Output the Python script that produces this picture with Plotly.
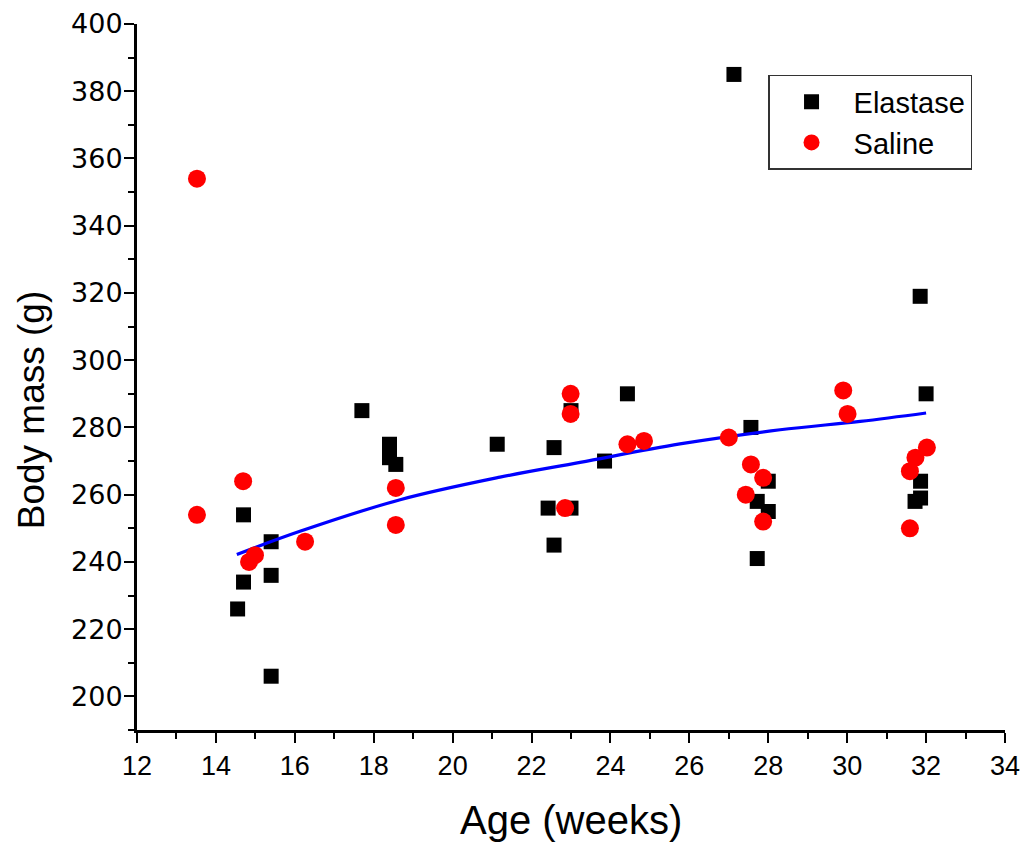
import plotly.graph_objects as go

# Elastase group: age (weeks) and body mass (g)
elastase_age = [14.55, 14.70, 14.70, 15.40, 15.40, 15.40, 17.70, 18.40, 18.40, 18.56,
                21.13, 22.42, 22.57, 22.57, 23.00, 23.00, 23.85, 24.43, 27.13, 27.56,
                27.72, 27.72, 28.00, 28.00, 31.72, 31.86, 31.86, 31.85, 32.00]
elastase_mass = [226, 254, 234, 246, 236, 206, 285, 275, 271, 269,
                 275, 256, 274, 245, 256, 285, 270, 290, 385, 280,
                 258, 241, 264, 255, 258, 264, 259, 319, 290]

# Saline group: age (weeks) and body mass (g)
saline_age = [13.52, 13.52, 14.69, 14.84, 14.99, 16.26, 18.56, 18.56, 22.85, 22.99,
              22.99, 24.43, 24.85, 27.00, 27.43, 27.56, 27.87, 27.87, 29.90, 30.01,
              31.59, 31.59, 31.73, 32.02]
saline_mass = [354, 254, 264, 240, 242, 246, 262, 251, 256, 290,
               284, 275, 276, 277, 260, 269, 265, 252, 291, 284,
               267, 250, 271, 274]

# Growth-curve fit through both groups
fit_age = [14.53, 16.13, 18.67, 21.20, 23.23, 25.76, 28.30, 30.33, 32.00]
fit_mass = [242.2, 249.1, 258.5, 265.2, 269.6, 275.1, 279.3, 281.8, 284.3]

x_ticks = list(range(12, 35, 2))
y_ticks = list(range(200, 401, 20))

fig = go.Figure()

fig.add_trace(go.Scatter(
    x=elastase_age, y=elastase_mass, mode="markers", name="Elastase",
    marker=dict(symbol="square", size=15, color="black", line=dict(width=0)),
))
fig.add_trace(go.Scatter(
    x=fit_age, y=fit_mass, mode="lines", showlegend=False,
    line=dict(color="#0000ff", width=3.2, shape="spline"),
))
fig.add_trace(go.Scatter(
    x=saline_age, y=saline_mass, mode="markers", name="Saline",
    marker=dict(symbol="circle", size=18, color="#ff0000", line=dict(width=0)),
))

axis_common = dict(
    showgrid=False, zeroline=False, showline=True, linecolor="black", linewidth=3,
    ticks="outside", ticklen=10, tickwidth=2, tickcolor="black", automargin=False,
)

fig.update_xaxes(
    range=[12, 34], tickvals=x_ticks, ticktext=[str(v) for v in x_ticks],
    tickfont=dict(family="Liberation Sans, Arial", size=27, color="black"),
    minor=dict(dtick=1, tick0=12, ticks="outside", ticklen=6, tickwidth=2, tickcolor="black"),
    **axis_common,
)
fig.update_yaxes(
    range=[190, 400], tickvals=y_ticks, ticktext=[str(v) for v in y_ticks],
    tickfont=dict(family="DejaVu Sans", size=27, color="black"),
    ticklabelstandoff=-4,
    minor=dict(dtick=10, tick0=190, ticks="outside", ticklen=6, tickwidth=2, tickcolor="black"),
    **axis_common,
)

fig.add_annotation(
    text="Age (weeks)", xref="paper", yref="paper", x=0.5, y=-0.128,
    xanchor="center", yanchor="middle", showarrow=False,
    font=dict(family="Liberation Sans, Arial", size=40, color="black"),
)
fig.add_annotation(
    text="Body mass (g)", xref="paper", yref="paper", x=-0.122, y=0.453,
    xanchor="center", yanchor="middle", showarrow=False, textangle=-90,
    font=dict(family="Liberation Sans, Arial", size=37, color="black"),
)

fig.update_layout(
    width=1025, height=844,
    margin=dict(l=137, r=20, t=24, b=114),
    plot_bgcolor="white", paper_bgcolor="white",
    legend=dict(
        x=0.727, y=0.928, xanchor="left", yanchor="top",
        bordercolor="#333333", borderwidth=1.5, bgcolor="white",
        font=dict(family="Liberation Sans, Arial", size=29, color="black"),
        itemwidth=74, tracegroupgap=0,
    ),
)

fig.write_html("out.html")
